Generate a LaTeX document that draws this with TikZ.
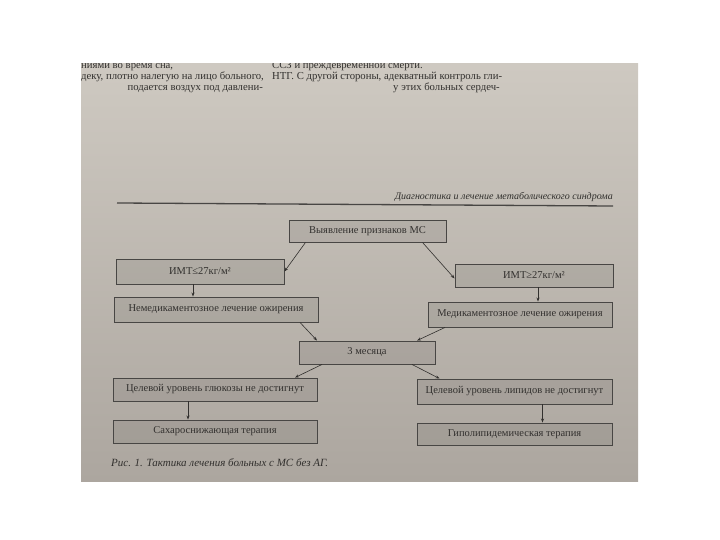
\documentclass[tikz,border=0pt]{standalone}
\usepackage{fontspec}
\setmainfont{Liberation Serif}
\usetikzlibrary{arrows.meta,calc}

\definecolor{pagetop}{RGB}{206,201,193}
\definecolor{pagebot}{RGB}{172,166,159}
\definecolor{inkgray}{RGB}{50,48,46}
\definecolor{framegray}{RGB}{72,70,68}

\tikzset{
  flowbox/.style={draw=framegray, line width=0.9pt, fill=black, fill opacity=0.07,
    text opacity=1, text=inkgray, inner sep=0pt, font=\fontsize{10.5}{12}\selectfont},
  flowarrow/.style={draw=inkgray, line width=0.6pt, -{Stealth[length=4pt,width=3pt]}},
  pagetext/.style={text=inkgray, inner sep=0pt, font=\fontsize{10.7}{12}\selectfont},
}

\begin{document}
\begin{tikzpicture}[x=1pt, y=-1pt]
        \useasboundingbox (0,0) rectangle (720,540);

        % Photographed page
        \shade[top color=pagetop, bottom color=pagebot] (81,64) rectangle (638,481);

        % Text lines of the page, cut at the top edge
        \begin{scope}
          \clip (81,64) rectangle (638,481);
          \node[pagetext, anchor=base west] (leftone) at (81,69) {ниями во время сна,};
          \node[pagetext, anchor=base west] (lefttwo) at (81,80) {деку, плотно налегую на лицо больного,};
          \node[pagetext, anchor=base east] (leftthree) at (263,91) {подается воздух под давлени-};
          \node[pagetext, anchor=base west] (rightone) at (272,69) {ССЗ и преждевременной смерти.};
          \node[pagetext, anchor=base west] (righttwo) at (272,80) {НТГ. С другой стороны, адекватный контроль гли-};
          \node[pagetext, anchor=base east] (rightthree) at (500,91) {у этих больных сердеч-};
        \end{scope}

        % Running head
        \node[text=inkgray, inner sep=0pt, anchor=base east, font=\fontsize{10}{11}\selectfont\itshape] (runhead) at (613,200) {Диагностика и лечение метаболического синдрома};
        \draw[framegray, line width=1.3pt] (117,203) -- (613,206);

        % Boxes of the scheme
        \node[flowbox, minimum width=157pt, minimum height=22pt] (detect) at (367.5,231) {Выявление признаков МС};
        \node[flowbox, minimum width=168pt, minimum height=25pt] (bmilow) at (200,271.5) {ИМТ≤27кг/м²};
        \node[flowbox, minimum width=158pt, minimum height=23pt] (bmihigh) at (534,275.5) {ИМТ≥27кг/м²};
        \node[flowbox, minimum width=204pt, minimum height=25pt] (nondrug) at (216,309.5) {Немедикаментозное лечение ожирения};
        \node[flowbox, minimum width=184pt, minimum height=25pt] (drug) at (520,314.5) {Медикаментозное лечение ожирения};
        \node[flowbox, minimum width=136pt, minimum height=23pt] (months) at (367,352.5) {3 месяца};
        \node[flowbox, minimum width=204pt, minimum height=23pt] (glucose) at (215,389.5) {Целевой уровень глюкозы не достигнут};
        \node[flowbox, minimum width=195pt, minimum height=25pt] (lipids) at (514.5,391.5) {Целевой уровень липидов не достигнут};
        \node[flowbox, minimum width=204pt, minimum height=23pt] (sugar) at (215,431.5) {Сахароснижающая терапия};
        \node[flowbox, minimum width=195pt, minimum height=22pt] (lipidther) at (514.5,434) {Гиполипидемическая терапия};

        % Connectors
        \draw[flowarrow] ([xshift=-62pt]detect.south) -- (bmilow.east);
        \draw[flowarrow] ([xshift=55pt]detect.south) -- ([yshift=-3pt]bmihigh.west);
        \draw[flowarrow] ([xshift=-7pt]bmilow.south) -- ([xshift=-7pt]bmilow.south |- nondrug.north);
        \draw[flowarrow] ([xshift=4pt]bmihigh.south) -- ([xshift=4pt]bmihigh.south |- drug.north);
        \draw[flowarrow] ([xshift=84pt]nondrug.south) -- ([xshift=-50pt]months.north);
        \draw[flowarrow] ([xshift=-75pt]drug.south) -- ([xshift=50pt]months.north);
        \draw[flowarrow] ([xshift=-45pt]months.south) -- ([xshift=80pt]glucose.north);
        \draw[flowarrow] ([xshift=45pt]months.south) -- ([xshift=-75pt]lipids.north);
        \draw[flowarrow] ([xshift=-27pt]glucose.south) -- ([xshift=-27pt]glucose.south |- sugar.north);
        \draw[flowarrow] ([xshift=28pt]lipids.south) -- ([xshift=28pt]lipids.south |- lipidther.north);

        % Caption
        \node[text=inkgray, inner sep=0pt, anchor=base west, font=\fontsize{11}{12}\selectfont\itshape] (caption) at (111,466) {Рис. 1. Тактика лечения больных с МС без АГ.};
\end{tikzpicture}
\end{document}
